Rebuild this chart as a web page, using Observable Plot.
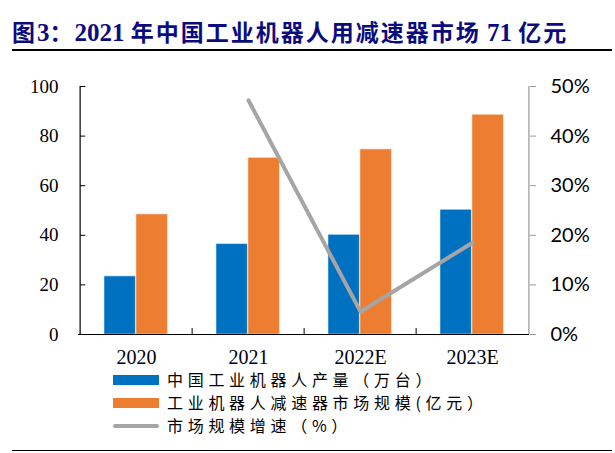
<!DOCTYPE html>
<html>
<head>
<meta charset="utf-8">
<script src="https://cdn.jsdelivr.net/npm/d3@7"></script>
<script src="https://cdn.jsdelivr.net/npm/@observablehq/plot@0.6"></script>
<style>
  body { margin: 0; background: #fff; width: 615px; height: 453px; overflow: hidden; }
  #wrap { position: relative; width: 615px; height: 453px; }
  #title { position: absolute; left: 12px; top: 14px; width: 600px; height: 35px; border-bottom: 2.5px solid #000;
    font-family: "Liberation Serif", "Noto Sans CJK SC", serif; font-weight: bold; font-size: 25px; color: #0b0b80; line-height: 34px; white-space: nowrap; }
  #title .cjk { font-family: "Noto Sans CJK SC", sans-serif; font-weight: bold; font-size: 23px; letter-spacing: 2px; }
  #chart { position: absolute; left: 0; top: 55px; }
  #legend { position: absolute; left: 113px; top: 368px; font-family: "Noto Sans CJK SC", sans-serif; font-size: 16px; letter-spacing: 4.7px; color: #000; }
  .item { display: flex; align-items: center; height: 23px; line-height: 23px; white-space: nowrap; }
  .sw { width: 46px; height: 10px; margin-right: 8px; flex: none; }
  .ln { width: 46px; height: 4px; margin-right: 8px; background: #A5A5A5; border-radius: 2px; flex: none; }
  #bottom { position: absolute; left: 12px; top: 450px; width: 600px; height: 0; border-top: 1.5px solid #000; }
</style>
</head>
<body>
<div id="wrap">
  <div id="title"><span class="cjk">图</span>3<span class="cjk">：</span>2021 <span class="cjk">年中国工业机器人用减速器市场</span> 71 <span class="cjk">亿元</span></div>
  <div id="chart"></div>
  <div id="legend">
    <div class="item"><div class="sw" style="background:#0070C0"></div>中国工业机器人产量（万台）</div>
    <div class="item"><div class="sw" style="background:#ED7D31"></div>工业机器人减速器市场规模(亿元）</div>
    <div class="item"><div class="ln"></div>市场规模增速（%）</div>
  </div>
  <div id="bottom"></div>
</div>
<script>
const years = ["2020", "2021", "2022E", "2023E"];
const robotOutput = [23.4, 36.4, 40.2, 50.3];      // 万台
const reducerMarket = [48.4, 71.2, 74.6, 88.6];    // 亿元
const marketGrowth = [null, 47.2, 4.6, 18.5];      // %
const leftTicks = [0, 20, 40, 60, 80, 100];
const rightTicks = [0, 10, 20, 30, 40, 50];

const rows = years.map((y, i) => ({year: y, output: robotOutput[i], market: reducerMarket[i], growth: marketGrowth[i]}));
const lineRows = rows.filter(d => d.growth != null);

const bandW = (615 - 78 - 86) / 4;
const padOuter = 24, barW = 32;

const chart = Plot.plot({
  width: 615,
  height: 313,
  marginLeft: 78,
  marginRight: 86,
  marginTop: 31,
  marginBottom: 34,
  style: {fontFamily: "Liberation Serif, serif", fontSize: "19px", color: "#000", background: "transparent"},
  x: {type: "band", domain: years, paddingInner: 0, paddingOuter: 0, label: null},
  y: {domain: [0, 100], label: null},
  marks: [
    Plot.barY(rows, {x: "year", y: "output", fill: "#0070C0", stroke: "#cfe0f0", strokeWidth: 0.6,
      insetLeft: padOuter, insetRight: bandW - padOuter - barW}),
    Plot.barY(rows, {x: "year", y: "market", fill: "#ED7D31", stroke: "#f8dcc8", strokeWidth: 0.6,
      insetLeft: padOuter + barW, insetRight: bandW - padOuter - 2 * barW}),
    Plot.lineY(lineRows, {x: "year", y: d => d.growth * 2, stroke: "#A5A5A5", strokeWidth: 4}),
    // left axis: labels, inward ticks, line
    Plot.text(leftTicks, {y: d => d, text: d => String(d), frameAnchor: "left", dx: -20, textAnchor: "end",
      fontSize: 19, fontFamily: "Liberation Serif, serif", fill: "#000"}),
    Plot.tickY(leftTicks, {y: d => d, x: () => years[0], insetRight: bandW - 6, stroke: "#000", strokeWidth: 1}),
    Plot.ruleX([0], {x: () => years[0], y1: 0, y2: 100, stroke: "#000", strokeWidth: 1.2, dx: -bandW / 2}),
    // right axis
    Plot.axisY({anchor: "right", ticks: rightTicks.map(t => t * 2), tickFormat: d => d / 2 + "%", tickSize: 6,
      tickPadding: 15, stroke: "#999", fontFamily: "Lato, sans-serif", fontSize: 20, color: "#000", label: null}),
    Plot.ruleX([0], {x: () => years[3], y1: 0, y2: 100, stroke: "#999", strokeWidth: 1.2, dx: bandW / 2}),
    // bottom axis
    Plot.axisX({anchor: "bottom", tickSize: 0, tickPadding: 15, fontSize: 20, fontFamily: "Liberation Serif, serif", label: null}),
    Plot.ruleY([0], {stroke: "#000", strokeWidth: 1.2}),
    Plot.ruleX(years.slice(1), {x: d => d, y1: 0, y2: 2.4, dx: -bandW / 2, stroke: "#000", strokeWidth: 1})
  ]
});
document.getElementById("chart").appendChild(chart);
</script>
</body>
</html>
